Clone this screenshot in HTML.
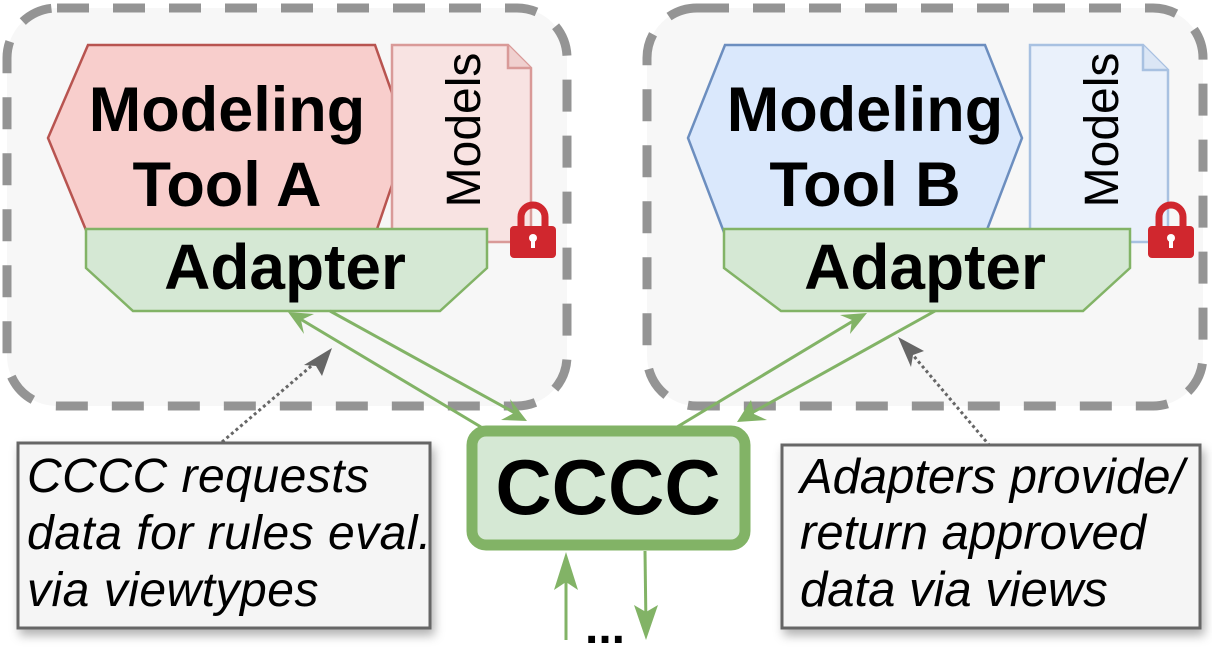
<!DOCTYPE html>
<html><head><meta charset="utf-8"><style>
html,body{margin:0;padding:0;background:#fff;}
svg{display:block;font-family:"Liberation Sans",Arial,sans-serif;}
</style></head><body>
<svg width="1212" height="648" viewBox="0 0 1212 648" xmlns="http://www.w3.org/2000/svg">
<defs>
<filter id="sh" x="-10%" y="-10%" width="130%" height="140%"><feDropShadow dx="3" dy="6" stdDeviation="5" flood-color="#000" flood-opacity="0.3"/></filter>
</defs>
<rect x="7" y="8" width="560" height="398" rx="50" fill="#f7f7f7" stroke="#949494" stroke-width="9" stroke-dasharray="32,24"/>
<rect x="647" y="8" width="556" height="398" rx="50" fill="#f7f7f7" stroke="#949494" stroke-width="9" stroke-dasharray="32,24"/>

<polygon points="88,45 375,45 408,138 375,235 88,235 48,138" fill="#f8cecc" stroke="#b85450" stroke-width="2.5"/>
<path d="M392,45 H508 L531,68 V242 H392 Z" fill="#f8e3e2" stroke="#d99a98" stroke-width="2.5"/>
<path d="M508,45 V68 H531" fill="#f0d0cf" stroke="#d99a98" stroke-width="2.5"/>
<text x="0" y="0" transform="translate(480,130) rotate(-90)" font-size="48" text-anchor="middle">Models</text>
<text x="227" y="131" font-size="63" font-weight="bold" text-anchor="middle">Modeling</text>
<text x="227" y="206" font-size="63" font-weight="bold" text-anchor="middle">Tool A</text>
<polygon points="86,229 487,229 487,268 440,311 133,311 86,268" fill="#d5e8d4" stroke="#82b366" stroke-width="2.5"/>
<text x="285" y="289" font-size="64" font-weight="bold" text-anchor="middle">Adapter</text>
<path d="M521,226 V217 A12,12 0 0 1 545,217 V226" fill="none" stroke="#d0272e" stroke-width="7"/>
<rect x="510" y="226" width="46" height="32" rx="4" fill="#d0272e"/>
<circle cx="533" cy="238" r="4" fill="#fff"/><rect x="531" y="239" width="4" height="9" fill="#fff"/>

<polygon points="725,45 985,45 1022,138 985,235 725,235 688,138" fill="#dae8fc" stroke="#6c8ebf" stroke-width="2.5"/>
<path d="M1030,45 H1143 L1168,70 V242 H1030 Z" fill="#eaf1fb" stroke="#a8c1e1" stroke-width="2.5"/>
<path d="M1143,45 V70 H1168" fill="#dbe6f5" stroke="#a8c1e1" stroke-width="2.5"/>
<text x="0" y="0" transform="translate(1118,130) rotate(-90)" font-size="48" text-anchor="middle">Models</text>
<text x="865" y="131" font-size="63" font-weight="bold" text-anchor="middle">Modeling</text>
<text x="865" y="206" font-size="63" font-weight="bold" text-anchor="middle">Tool B</text>
<polygon points="724,229 1130,229 1130,268 1083,311 781,311 724,268" fill="#d5e8d4" stroke="#82b366" stroke-width="2.5"/>
<text x="925" y="289" font-size="64" font-weight="bold" text-anchor="middle">Adapter</text>
<path d="M1159,226 V217 A12,12 0 0 1 1183,217 V226" fill="none" stroke="#d0272e" stroke-width="7"/>
<rect x="1148" y="226" width="46" height="32" rx="4" fill="#d0272e"/>
<circle cx="1171" cy="238" r="4" fill="#fff"/><rect x="1169" y="239" width="4" height="9" fill="#fff"/>

<g stroke="#82b366" stroke-width="3" fill="none">
<line x1="481" y1="427" x2="297" y2="317"/>
<line x1="330" y1="311" x2="515" y2="413"/>
<line x1="677" y1="427" x2="858" y2="318"/>
<line x1="935" y1="311" x2="748" y2="415"/>
<line x1="566" y1="640" x2="566" y2="562"/>
<line x1="645" y1="551" x2="646" y2="628"/>
</g>
<g fill="#82b366">
<polygon points="288,312 314,314 301,320 304,334"/>
<polygon points="527,421 501,420 514,413 510,399"/>
<polygon points="867,313 850,334 852,320 840,315"/>
<polygon points="737,422 751,400 754,414 767,420"/>
<polygon points="566,552 578,590 566,582 554,590"/>
<polygon points="646,640 634,605 646,612 658,605"/>
</g>
<text x="605" y="643" font-size="48" font-weight="bold" text-anchor="middle">...</text>

<rect x="472" y="431" width="273" height="114" rx="14" fill="#d5e8d4" stroke="#82b366" stroke-width="11"/>
<text x="608" y="514" font-size="78" font-weight="bold" text-anchor="middle">CCCC</text>

<line x1="222" y1="442" x2="316" y2="362" stroke="#666" stroke-width="3" stroke-dasharray="3,3"/>
<polygon points="332,348 322,376 316,366 304,365" fill="#666"/>
<line x1="990" y1="446" x2="912" y2="354" stroke="#666" stroke-width="3" stroke-dasharray="3,3"/>
<polygon points="898,337 924,351 913,355 911,367" fill="#666"/>

<rect x="18" y="443" width="412" height="185" fill="#f5f5f5" stroke="#666" stroke-width="3" filter="url(#sh)"/>
<g font-size="48" font-style="italic" fill="#000" letter-spacing="0.5">
<text x="27" y="492">CCCC requests</text>
<text x="27" y="549">data for rules eval.</text>
<text x="27" y="606">via viewtypes</text>
</g>
<rect x="782" y="445" width="418" height="183" fill="#f5f5f5" stroke="#666" stroke-width="3" filter="url(#sh)"/>
<g font-size="49" font-style="italic" fill="#000">
<text x="800" y="493">Adapters provide/</text>
<text x="800" y="549">return approved</text>
<text x="800" y="606">data via views</text>
</g>
</svg>
</body></html>
